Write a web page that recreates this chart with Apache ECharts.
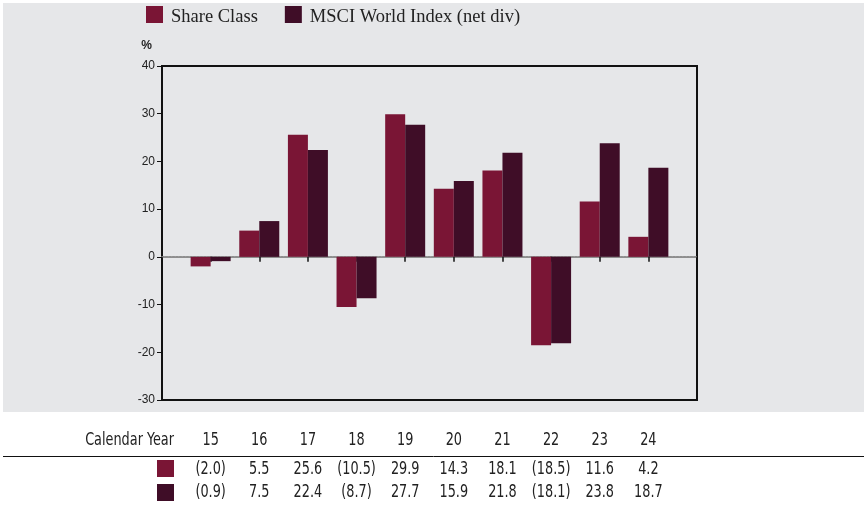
<!DOCTYPE html>
<html><head><meta charset="utf-8">
<script src="https://cdn.jsdelivr.net/npm/echarts@6/dist/echarts.min.js"></script>
<style>html,body{margin:0;padding:0;background:#fff}#c{width:864px;height:505px}</style>
</head><body><div id="c"></div>
<script>
const years = [15, 16, 17, 18, 19, 20, 21, 22, 23, 24];
const shareClass = [-2.0, 5.5, 25.6, -10.5, 29.9, 14.3, 18.1, -18.5, 11.6, 4.2];
const msciWorld = [-0.9, 7.5, 22.4, -8.7, 27.7, 15.9, 21.8, -18.1, 23.8, 18.7];
const seriesNames = ['Share Class', 'MSCI World Index (net div)'];
const yMin = -30, yMax = 40, yInterval = 10;
const xMin = 14, xMax = 25;
const tableTitle = 'Calendar Year';
const colors = ['#7a1535', '#3f0d27'];

const tableFont = '"DejaVu Sans Condensed","Liberation Sans Narrow","Liberation Sans",sans-serif';
const fmt = v => v < 0 ? '(' + Math.abs(v).toFixed(1) + ')' : v.toFixed(1);

const chart = echarts.init(document.getElementById('c'), null, {renderer: 'canvas'});
const option = {
  animation: false,
  backgroundColor: '#ffffff',
  legend: {
    left: 146, top: 6, padding: 0, itemWidth: 17, itemHeight: 17, itemGap: 27, icon: 'rect',
    formatter: name => '{t|' + name + '}',
    textStyle: {
      fontFamily: '"Liberation Serif","DejaVu Serif",serif', fontSize: 18.5, color: '#222',
      rich: {t: {fontFamily: '"Liberation Serif","DejaVu Serif",serif', fontSize: 18.5, color: '#222', padding: [6, 0, 0, 3]}}
    },
    data: seriesNames
  },
  grid: {left: 162, top: 66, right: 167, bottom: 105, show: true, borderColor: '#111', borderWidth: 2, backgroundColor: 'transparent'},
  xAxis: {
    type: 'value', min: xMin, max: xMax, interval: 1,
    axisLine: {show: true, onZero: true, lineStyle: {color: '#8e8e8e', width: 2, type: [2, 1.5]}},
    axisTick: {show: true, length: 5, lineStyle: {color: '#111', width: 1.5}},
    axisLabel: {show: false}, splitLine: {show: false}
  },
  yAxis: {
    type: 'value', min: yMin, max: yMax, interval: yInterval,
    name: '%', nameLocation: 'end', nameGap: 14,
    nameTextStyle: {fontFamily: '"Liberation Sans",Arial,sans-serif', fontSize: 12, fontWeight: 'bold', color: '#222', align: 'right', padding: [0, 10, 0, 0]},
    axisLine: {show: false},
    axisTick: {show: true, length: 5, lineStyle: {color: '#111', width: 1}},
    axisLabel: {fontFamily: '"Liberation Sans",Arial,sans-serif', fontSize: 12, color: '#222', margin: 7},
    splitLine: {show: false}
  },
  series: [
    {name: seriesNames[0], type: 'bar', barWidth: 20, barGap: '0%', itemStyle: {color: colors[0]}, data: years.map((y, i) => [y, shareClass[i]])},
    {name: seriesNames[1], type: 'bar', barWidth: 20, barGap: '0%', itemStyle: {color: colors[1]}, data: years.map((y, i) => [y, msciWorld[i]])}
  ]
};
chart.setOption(option);

const txt = (x, y, text, align) => ({
  type: 'text', x: x, y: y, scaleX: 0.84,
  style: {text: text, textAlign: align, textVerticalAlign: 'middle', font: '17px ' + tableFont, fill: '#222'}
});
const els = [
  {type: 'rect', z: -100, shape: {x: 3, y: 3, width: 861, height: 409}, style: {fill: '#e6e7e9'}},
  {type: 'line', shape: {x1: 3, y1: 456.5, x2: 864, y2: 456.5}, style: {stroke: '#111', lineWidth: 1}},
  txt(174, 441, tableTitle, 'right'),
  {type: 'rect', shape: {x: 157, y: 460, width: 17, height: 17}, style: {fill: colors[0]}},
  {type: 'rect', shape: {x: 157, y: 484, width: 17, height: 17}, style: {fill: colors[1]}}
];
years.forEach((y, i) => {
  const px = chart.convertToPixel({xAxisIndex: 0}, y);
  els.push(txt(px, 441, String(y), 'center'));
  els.push(txt(px, 469.5, fmt(shareClass[i]), 'center'));
  els.push(txt(px, 493, fmt(msciWorld[i]), 'center'));
});
chart.setOption({graphic: {elements: els}});
</script></body></html>
